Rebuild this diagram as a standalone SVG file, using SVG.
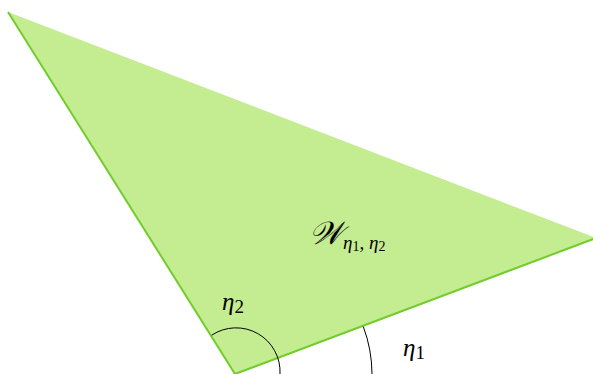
<svg xmlns="http://www.w3.org/2000/svg" width="593" height="374" viewBox="0 0 593 374">
<style>
.m{font-family:"Liberation Serif","DejaVu Serif",serif;fill:#000}
.it{font-style:italic}
.arc{fill:none;stroke:#000;stroke-width:1}
</style>
<rect width="593" height="374" fill="#fff"/>
<g id="wedge">
<polygon points="8,12 596,238 235,374" fill="#c4ec91"/>
<polyline points="8,12 235,374 596,238" fill="none" stroke="#72cc2a" stroke-width="2"/>
</g>
<g id="angles">
<path class="arc" d="M211.7,335.2 A44,44 0 0 1 280,374"/>
<path class="arc" d="M363.3,326.6 A137,137 0 0 1 372,374"/>
</g>
<g id="labels">
<text class="m" x="222" y="310" font-size="25"><tspan class="it">η</tspan><tspan font-size="19" dy="3">2</tspan></text>
<text class="m" x="403" y="356" font-size="25"><tspan class="it">η</tspan><tspan font-size="19" dy="3">1</tspan></text>
<text class="m" x="309" y="244" font-size="32"><tspan class="it">𝒲</tspan><tspan font-size="19" dy="5" class="it">η</tspan><tspan font-size="14" dy="2">1</tspan><tspan font-size="19" dy="-2">, </tspan><tspan font-size="19" class="it">η</tspan><tspan font-size="14" dy="2">2</tspan></text>
</g>
</svg>
